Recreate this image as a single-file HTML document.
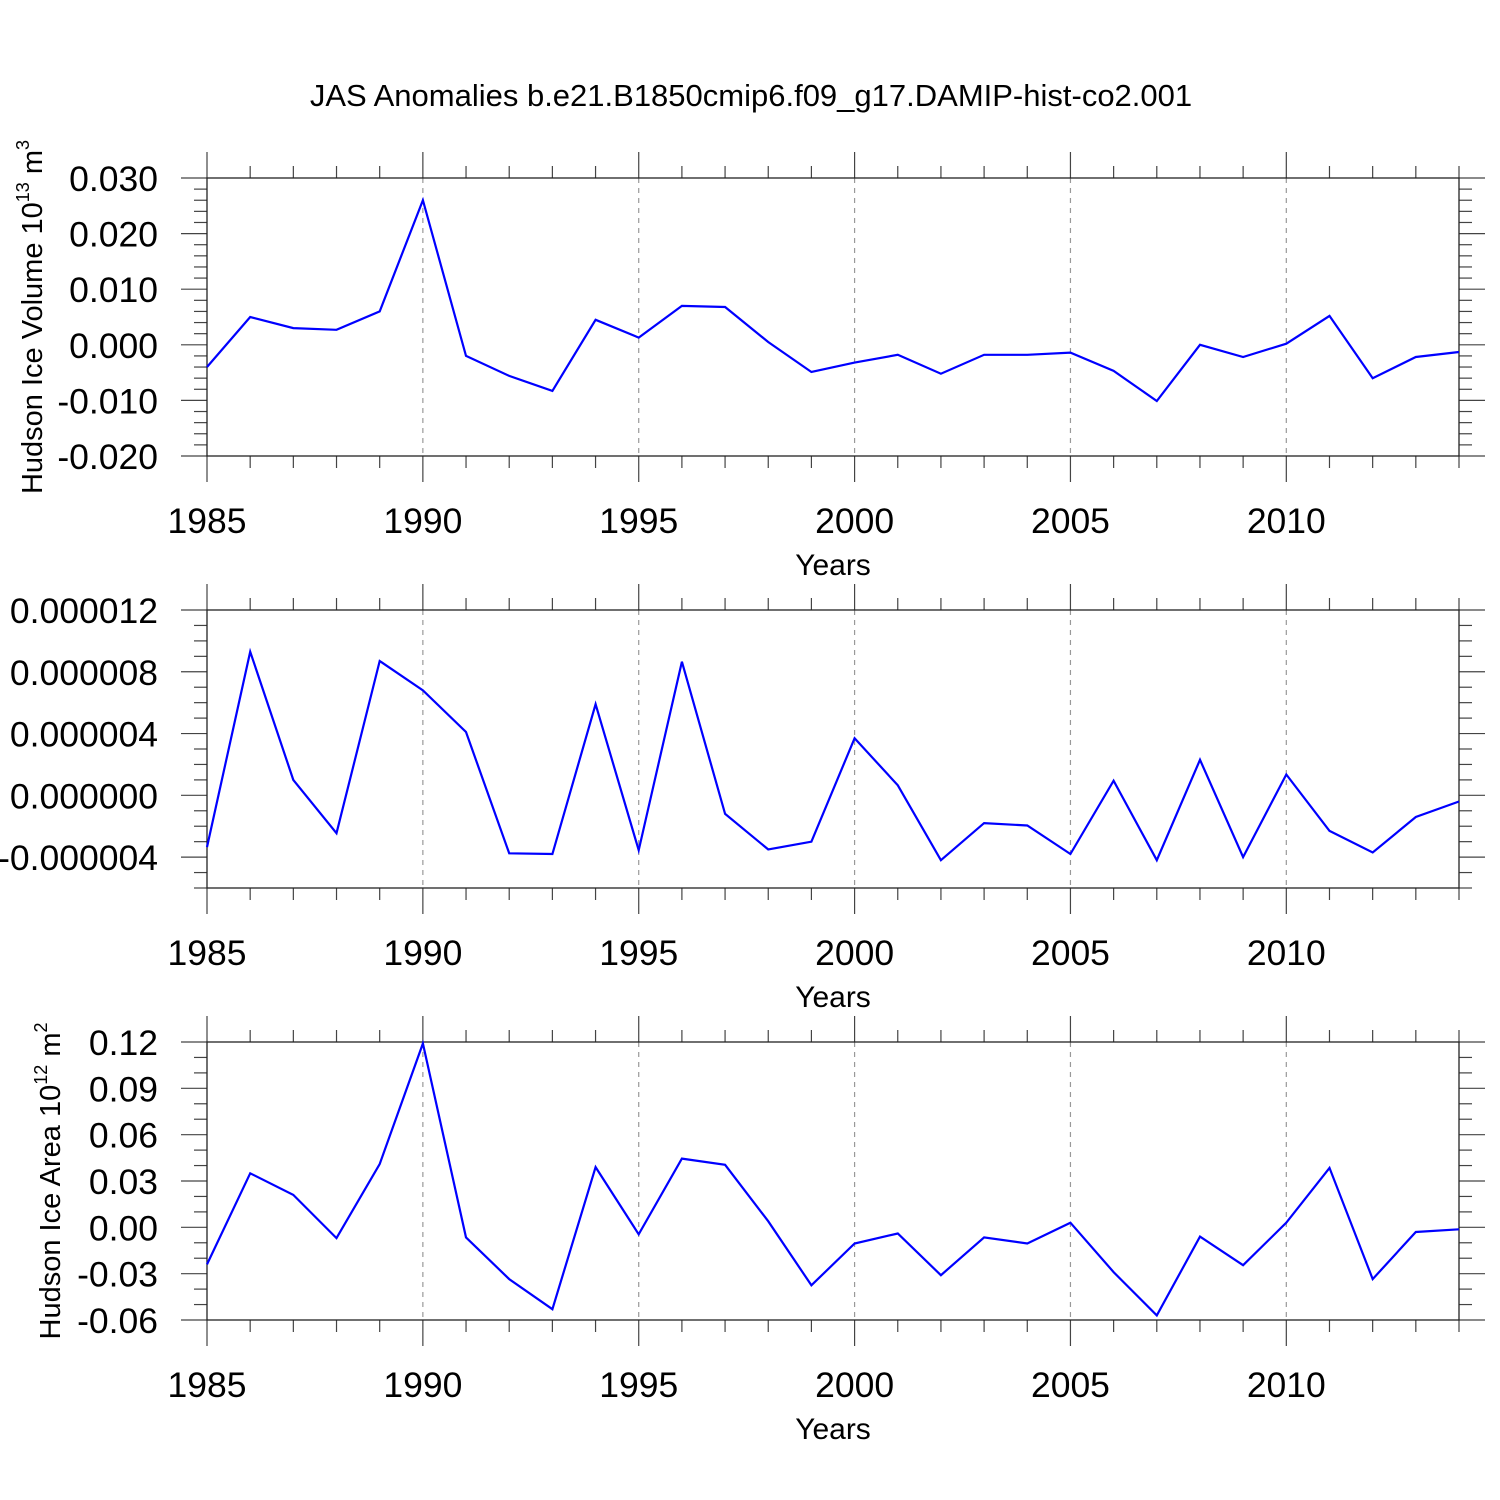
<!DOCTYPE html>
<html><head><meta charset="utf-8"><style>
html,body{margin:0;padding:0;background:#fff}
svg{display:block}
text{font-family:"Liberation Sans",Arial,sans-serif;fill:#000}
</style></head><body>
<svg id="chart" width="1500" height="1500" viewBox="0 0 1500 1500" xmlns="http://www.w3.org/2000/svg">
<text x="751" y="106" font-size="31" text-anchor="middle">JAS Anomalies b.e21.B1850cmip6.f09_g17.DAMIP-hist-co2.001</text>
</svg>
<script>
const years = [1985,1986,1987,1988,1989,1990,1991,1992,1993,1994,1995,1996,1997,1998,1999,2000,2001,2002,2003,2004,2005,2006,2007,2008,2009,2010,2011,2012,2013,2014];
const volume = [-0.004,0.005,0.003,0.0027,0.006,0.026,-0.002,-0.0056,-0.0083,0.0045,0.0013,0.007,0.0068,0.0005,-0.0049,-0.0032,-0.0018,-0.0052,-0.0018,-0.0018,-0.0014,-0.0047,-0.0101,0.0,-0.0022,0.0002,0.0052,-0.006,-0.0022,-0.0013];
const middle = [-3.35e-6,9.3e-6,1.0e-6,-2.45e-6,8.7e-6,6.8e-6,4.1e-6,-3.75e-6,-3.8e-6,5.9e-6,-3.55e-6,8.65e-6,-1.2e-6,-3.5e-6,-3.0e-6,3.7e-6,0.65e-6,-4.2e-6,-1.8e-6,-1.95e-6,-3.8e-6,0.95e-6,-4.2e-6,2.3e-6,-4.0e-6,1.35e-6,-2.3e-6,-3.7e-6,-1.4e-6,-0.4e-6];
const area = [-0.024,0.035,0.021,-0.007,0.041,0.119,-0.0065,-0.0335,-0.053,0.039,-0.0045,0.0445,0.0405,0.004,-0.0375,-0.0105,-0.004,-0.031,-0.0065,-0.0105,0.003,-0.029,-0.057,-0.006,-0.0245,0.003,0.0385,-0.0335,-0.003,-0.0013];
const xTickLabels = [1985,1990,1995,2000,2005,2010];
const volTicks = ["0.030","0.020","0.010","0.000","-0.010","-0.020"];
const midTicks = ["0.000012","0.000008","0.000004","0.000000","-0.000004"];
const areaTicks = ["0.12","0.09","0.06","0.03","0.00","-0.03","-0.06"];

const svg = document.getElementById('chart');
const NS = 'http://www.w3.org/2000/svg';
function mk(tag, attrs, parent){const e=document.createElementNS(NS,tag);for(const k in attrs)e.setAttribute(k,attrs[k]);(parent||svg).appendChild(e);return e;}

const X0=207,X1=1459;
function xs(yr){return X0+(yr-1985)/(2014-1985)*(X1-X0);}

function panel(name, top, bot, ymin, ymax, majorStep, minorStep, labels, data, ylabel, sup, unit){
  const g = mk('g',{});
  
  
  const ys = v => bot - (v-ymin)/(ymax-ymin)*(bot-top);
  for(const yr of xTickLabels){ if(yr===1985) continue;
    const l=mk('line',{x1:xs(yr),x2:xs(yr),y1:top,y2:bot,stroke:'#999','stroke-width':1.2,'stroke-dasharray':'5,5'},g);
    
    
  }
  for(let yr=1985; yr<=2014; yr++){
    const major = (yr%5===0), len = major?26:12, x=xs(yr);
    mk('line',{x1:x,x2:x,y1:top,y2:top-len,stroke:'#444','stroke-width':1.2},g);
    mk('line',{x1:x,x2:x,y1:bot,y2:bot+len,stroke:'#444','stroke-width':1.2},g);
  }
  const nMinor = Math.round((ymax-ymin)/minorStep);
  const ratio = Math.round(majorStep/minorStep);
  for(let i=0;i<=nMinor;i++){
    const v = ymin + i*minorStep, y=ys(v);
    const major = ((nMinor-i)%ratio===0), len = major?26:13;
    mk('line',{x1:X0,x2:X0-len,y1:y,y2:y,stroke:'#444','stroke-width':1.2},g);
    mk('line',{x1:X1,x2:X1+len,y1:y,y2:y,stroke:'#444','stroke-width':1.2},g);
  }
  mk('rect',{x:X0,y:top,width:X1-X0,height:bot-top,fill:'none',stroke:'#222','stroke-width':1.3},g);
  labels.forEach((t,i)=>{
    const e=mk('text',{x:158,y:ys(ymax-i*majorStep)+13,'font-size':35.5,'text-anchor':'end'},g);
    e.textContent=t;
    
    
  });
  xTickLabels.forEach(yr=>{
    const e=mk('text',{x:xs(yr),y:bot+77,'font-size':35.5,'text-anchor':'middle'},g);
    e.textContent=yr;
    
    
  });
  const xt=mk('text',{x:833,y:bot+119,'font-size':30,'text-anchor':'middle'},g);
  xt.textContent='Years';
  
  
  if(ylabel){
    const cy=(top+bot)/2;
    const yt=mk('text',{transform:`translate(${ylabel.x},${cy}) rotate(-90)`,'font-size':29,'text-anchor':'middle'},g);
    
    
    const a=document.createElementNS(NS,'tspan');a.textContent=ylabel.text+' 10';yt.appendChild(a);
    const b=document.createElementNS(NS,'tspan');b.setAttribute('dy','-13');b.setAttribute('font-size','18');b.textContent=sup;yt.appendChild(b);
    const c=document.createElementNS(NS,'tspan');c.setAttribute('dy','13');c.textContent=' m';yt.appendChild(c);
    const d=document.createElementNS(NS,'tspan');d.setAttribute('dy','-13');d.setAttribute('font-size','18');d.textContent=unit;yt.appendChild(d);
  }
  const pts = data.map((v,i)=>xs(years[i]).toFixed(1)+','+ys(v).toFixed(1)).join(' ');
  const pl=mk('polyline',{points:pts,fill:'none',stroke:'#0000ff','stroke-width':2.2,'stroke-linejoin':'miter'},g);
  
  
}
panel('panel-ice-volume',178,456,-0.02,0.03,0.01,0.002,volTicks,volume,{x:42,text:'Hudson Ice Volume'},'13','3');
panel('panel-middle',610,888,-6e-6,12e-6,4e-6,1e-6,midTicks,middle,null);
panel('panel-ice-area',1042,1320,-0.06,0.12,0.03,0.01,areaTicks,area,{x:60,text:'Hudson Ice Area'},'12','2');
</script>
</body></html>
